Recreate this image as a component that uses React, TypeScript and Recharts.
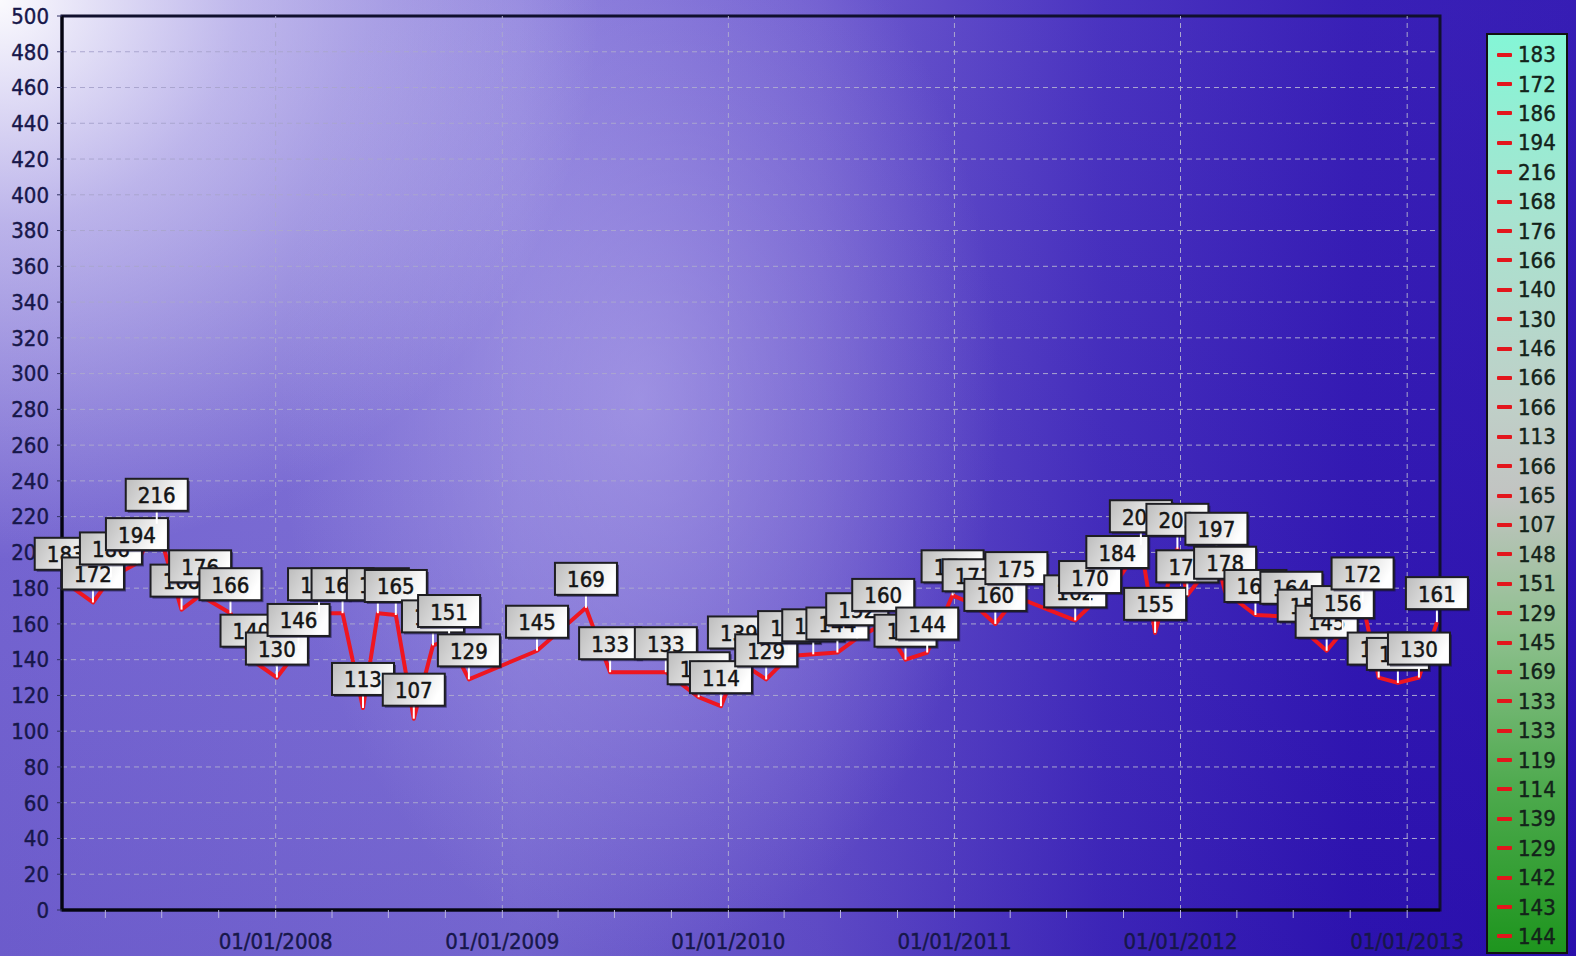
import React from 'react';
import { LineChart, Line, XAxis, YAxis, CartesianGrid, LabelList, ReferenceLine, ReferenceArea } from 'recharts';

// ---- data ----
const dates = [
  '2007-01-27', '2007-03-12', '2007-04-10', '2007-05-22', '2007-06-23', '2007-08-02', '2007-09-01', '2007-10-20',
  '2007-11-23', '2008-01-03', '2008-02-07', '2008-03-11', '2008-04-18', '2008-05-21', '2008-06-14', '2008-07-13',
  '2008-08-11', '2008-09-11', '2008-10-07', '2008-11-08', '2009-02-26', '2009-05-16', '2009-06-24', '2009-09-22',
  '2009-11-14', '2009-12-20', '2010-01-18', '2010-03-03', '2010-04-09', '2010-05-18', '2010-06-26', '2010-07-28',
  '2010-09-08', '2010-10-14', '2010-11-18', '2010-12-29', '2011-02-01', '2011-03-08', '2011-04-11', '2011-07-15',
  '2011-08-08', '2011-09-21', '2011-10-29', '2011-11-21', '2011-12-27', '2012-01-12', '2012-02-28', '2012-03-13',
  '2012-05-01', '2012-06-28', '2012-07-26', '2012-08-24', '2012-09-19', '2012-10-21', '2012-11-16', '2012-12-17',
  '2013-01-20', '2013-02-18',
];
const values = [
  183, 172, 186, 194, 216, 168, 176, 166,
  140, 130, 146, 166, 166, 113, 166, 165,
  107, 148, 151, 129, 145, 169, 133, 133,
  119, 114, 139, 129, 142, 143, 144, 152,
  160, 140, 144, 176, 171, 160, 175, 162,
  170, 184, 204, 155, 202, 176, 197, 178,
  165, 164, 154, 145, 156, 172, 130, 127,
  130, 161,
];
// legend entries visible in the reference (list is cut at the bottom of the window)
const legendCount = 31;
const yTicks = [0, 20, 40, 60, 80, 100, 120, 140, 160, 180, 200, 220, 240, 260, 280, 300, 320, 340, 360, 380, 400, 420, 440, 460, 480, 500];
const quarterTicks = [
  '2007-04-01', '2007-07-01', '2007-10-01', '2008-01-01', '2008-04-01', '2008-07-01', '2008-10-01',
  '2009-01-01', '2009-04-01', '2009-07-01', '2009-10-01', '2010-01-01', '2010-04-01', '2010-07-01', '2010-10-01',
  '2011-01-01', '2011-04-01', '2011-07-01', '2011-10-01', '2012-01-01', '2012-04-01', '2012-07-01', '2012-10-01',
  '2013-01-01',
];
const yearLines = ['2008-01-01', '2009-01-01', '2010-01-01', '2011-01-01', '2012-01-01', '2013-01-01'];
const xStart = '2007-01-21';
const xEnd = '2013-02-23';

const toTs = (s: string) => {
  const [y, m, d] = s.split('-').map(Number);
  return Date.UTC(y, m - 1, d);
};
const data = dates.map((d, i) => ({ t: toTs(d), v: values[i] }));

const FONT = "'DejaVu Sans Condensed', 'DejaVu Sans', 'Liberation Sans', sans-serif";
const AXIS_COLOR = '#17174a';

const fmtTick = (ts: number) => {
  const d = new Date(ts);
  if (d.getUTCMonth() !== 0) return '';
  const dd = String(d.getUTCDate()).padStart(2, '0');
  const mm = String(d.getUTCMonth() + 1).padStart(2, '0');
  return `${dd}/${mm}/${d.getUTCFullYear()}`;
};

const DataLabel = (props: any) => {
  const x = props.x ?? props.viewBox?.x;
  const y = props.y ?? props.viewBox?.y;
  const value = props.value;
  if (x == null || y == null) return null;
  const w = 62;
  const h = 32;
  const gap = 13;
  const bx = x - w / 2;
  const by = y - gap - h;
  return (
    <g>
      <line x1={x} y1={by + h} x2={x} y2={y} stroke="#ffffff" strokeWidth={2} />
      <rect x={bx + 2} y={by + 2} width={w} height={h} fill="rgba(20,16,60,0.55)" />
      <rect x={bx} y={by} width={w} height={h} fill="url(#lblFill)" stroke="#1e1e22" strokeWidth={2} />
      <text
        x={x}
        y={by + h / 2 + 1}
        textAnchor="middle"
        dominantBaseline="central"
        fontFamily={FONT}
        fontStretch="condensed"
        fontSize={22}
        fill="#141414"
        stroke="#141414"
        strokeWidth={0.5}
      >
        {value}
      </text>
    </g>
  );
};

const Legend = () => (
  <div
    style={{
      position: 'absolute',
      left: 1486,
      top: 33,
      width: 82,
      height: 921,
      boxSizing: 'border-box',
      border: '2px solid #111',
      background: 'linear-gradient(to bottom, #84f6d6 0%, #a8e3d0 20%, #bfd0c8 40%, #c2c4c2 50%, #8fc08f 65%, #4eaa4e 82%, #1e951e 100%)',
      overflow: 'hidden',
      paddingTop: 5,
    }}
  >
    {values.slice(0, legendCount).map((v, i) => (
      <div key={i} style={{ height: 29.4, display: 'flex', alignItems: 'center' }}>
        <div style={{ width: 15, height: 4, background: '#e3161c', marginLeft: 9, marginRight: 6, borderRadius: 1 }} />
        <span
          style={{
            fontFamily: FONT,
            fontStretch: 'condensed',
            fontSize: 22,
            color: '#13231a',
            lineHeight: '29px',
            WebkitTextStroke: '0.4px #13231a',
          }}
        >
          {v}
        </span>
      </div>
    ))}
  </div>
);

export default function App() {
  return (
    <div style={{ position: 'absolute', left: 0, top: 0, width: 1576, height: 956, overflow: 'hidden' }}>
      <div
        style={{
          position: 'absolute',
          inset: 0,
          background: [
            'radial-gradient(ellipse 600px 560px at 0px 0px, rgba(255,255,255,0.97) 0%, rgba(240,238,252,0.55) 40%, rgba(255,255,255,0) 100%)',
            'radial-gradient(ellipse 360px 560px at 640px 400px, rgba(190,180,240,0.55) 0%, rgba(190,180,240,0) 100%)',
            'linear-gradient(to bottom, rgba(255,255,255,0.06) 0%, rgba(40,20,150,0.14) 100%)',
            'linear-gradient(to right, #7767d4 0%, #8072d8 33%, #6652cc 52%, #3f27bc 70%, #2d12b2 86%, #2a0fb0 100%)',
          ].join(', '),
        }}
      />
      <div style={{ position: 'absolute', left: 0, top: 0 }}>
        <LineChart width={1576} height={956} data={data} margin={{ top: 16, right: 136, bottom: 0, left: 0 }}>
          <defs>
            <linearGradient id="lblFill" x1="0" y1="0" x2="1" y2="0.3">
              <stop offset="0%" stopColor="#bcbcbc" />
              <stop offset="100%" stopColor="#ffffff" />
            </linearGradient>
          </defs>
          <CartesianGrid vertical={false} stroke="#aaa6cf" strokeDasharray="5 4" strokeWidth={1} />
          <XAxis
            dataKey="t"
            type="number"
            scale="time"
            domain={[toTs(xStart), toTs(xEnd)]}
            ticks={quarterTicks.map(toTs)}
            interval={0}
            tickFormatter={fmtTick}
            height={46}
            axisLine={{ stroke: '#050510', strokeWidth: 3 }}
            tickLine={{ stroke: '#b8b2e0', strokeWidth: 1 }}
            tickSize={8}
            tickMargin={15}
            tick={{ fill: AXIS_COLOR, stroke: AXIS_COLOR, strokeWidth: 0.4, fontSize: 22, fontFamily: FONT, fontStretch: 'condensed' }}
          />
          <YAxis
            type="number"
            domain={[0, 500]}
            ticks={yTicks}
            interval={0}
            width={62}
            axisLine={{ stroke: '#050510', strokeWidth: 3 }}
            tickLine={{ stroke: '#303060', strokeWidth: 1 }}
            tickSize={5}
            tickMargin={8}
            tick={{ fill: AXIS_COLOR, stroke: AXIS_COLOR, strokeWidth: 0.4, fontSize: 22, fontFamily: FONT, fontStretch: 'condensed' }}
          />
          <ReferenceArea
            x1={toTs(xStart)}
            x2={toTs(xEnd)}
            y1={0}
            y2={500}
            fill="none"
            stroke="#10102e"
            strokeWidth={3}
            ifOverflow="visible"
          />
          {yearLines.map((d) => (
            <ReferenceLine key={d} x={toTs(d)} stroke="#aaa6cf" strokeDasharray="5 4" strokeWidth={1} />
          ))}
          <Line
            type="linear"
            dataKey="v"
            stroke="#ef1620"
            strokeWidth={4}
            strokeLinejoin="round"
            dot={false}
            activeDot={false}
            isAnimationActive={false}
          >
            <LabelList dataKey="v" content={DataLabel} />
          </Line>
        </LineChart>
      </div>
      <Legend />
    </div>
  );
}
